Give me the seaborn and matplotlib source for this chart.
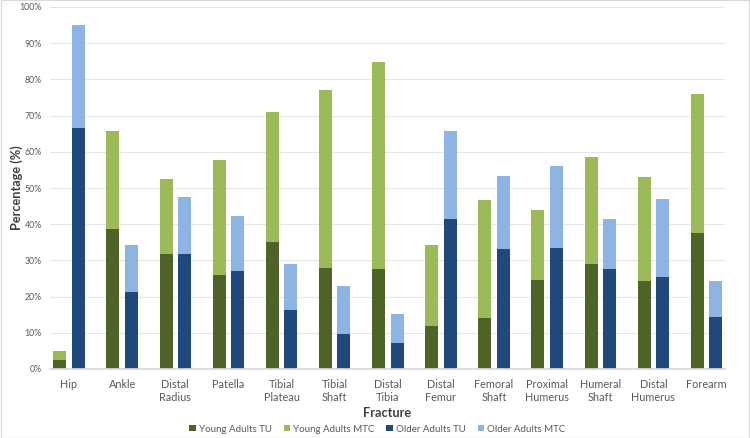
import matplotlib
matplotlib.use("Agg")
import matplotlib.pyplot as plt
import seaborn as sns
import pandas as pd
from matplotlib.patches import Patch
from matplotlib.ticker import PercentFormatter, MultipleLocator

fractures = ["Hip", "Ankle", "Distal\nRadius", "Patella", "Tibial\nPlateau", "Tibial\nShaft",
             "Distal\nTibia", "Distal\nFemur", "Femoral\nShaft", "Proximal\nHumerus",
             "Humeral\nShaft", "Distal\nHumerus", "Forearm"]
young_tu = [2.5, 38.7, 31.7, 26.0, 35.2, 27.8, 27.6, 11.9, 14.0, 24.7, 29.0, 24.4, 37.6]
young_mtc = [2.5, 27.1, 20.9, 31.8, 35.9, 49.4, 57.3, 22.4, 32.8, 19.2, 29.5, 28.6, 38.3]
older_tu = [66.5, 21.2, 31.7, 27.2, 16.2, 9.6, 7.1, 41.5, 33.2, 33.5, 27.5, 25.4, 14.4]
older_mtc = [28.5, 13.0, 15.8, 15.0, 12.8, 13.2, 8.0, 24.2, 20.0, 22.6, 14.0, 21.6, 9.8]
groups = ["Young Adults", "Older Adults"]
legend_labels = ["Young Adults TU", "Young Adults MTC", "Older Adults TU", "Older Adults MTC"]

c_ytu, c_ymtc, c_otu, c_omtc = "#4F6228", "#9BBB59", "#1F497D", "#8DB4E2"

rows = []
for i, f in enumerate(fractures):
    rows.append(dict(Fracture=f, Group=groups[0], TU=young_tu[i], Total=young_tu[i] + young_mtc[i]))
    rows.append(dict(Fracture=f, Group=groups[1], TU=older_tu[i], Total=older_tu[i] + older_mtc[i]))
df = pd.DataFrame(rows)

sns.set_theme(style="white")
plt.rcParams['font.family'] = ['Lato', 'DejaVu Sans']

fig = plt.figure(figsize=(7.5, 4.38), dpi=100)
ax = fig.add_axes([50 / 750, 1 - 369 / 438, 675 / 750, 362 / 438])

kw = dict(x="Fracture", hue="Group", hue_order=groups, width=0.696, gap=0.296,
          ax=ax, legend=False, saturation=1, errorbar=None, linewidth=0)
sns.barplot(data=df, y="Total", palette=[c_ymtc, c_omtc], **kw)
sns.barplot(data=df, y="TU", palette=[c_ytu, c_otu], **kw)

ax.set_ylim(0, 100)
ax.set_xlim(-0.358, len(fractures) - 1 + 0.348)
ax.yaxis.set_major_locator(MultipleLocator(10))
ax.yaxis.set_major_formatter(PercentFormatter(decimals=0))
ax.grid(axis="y", color="#E6E6E6", linewidth=0.8)
ax.set_axisbelow(True)
for s in ["top", "right", "left"]:
    ax.spines[s].set_visible(False)
ax.spines["bottom"].set_color("#D9D9D9")
ax.tick_params(axis="y", labelsize=6.3, colors="#595959", length=0, pad=6)
ax.tick_params(axis="x", labelsize=7.8, colors="#595959", length=0, pad=7)
for t in ax.get_xticklabels():
    t.set_linespacing(1.25)
ax.set_xlabel("Fracture", fontsize=9.2, fontweight="bold", color="#404040", labelpad=3)
ax.set_ylabel("Percentage (%)", fontsize=9.2, fontweight="bold", color="#404040")
ax.yaxis.set_label_coords(-27 / 675, 0.5)

handles = [Patch(facecolor=c, edgecolor="none") for c in [c_ytu, c_ymtc, c_otu, c_omtc]]
fig.legend(handles, legend_labels, loc="center", ncol=4, frameon=False,
           fontsize=7.0, handlelength=0.65, handleheight=0.65, handletextpad=0.3,
           columnspacing=1.25, bbox_to_anchor=(0.503, 1 - 429 / 438), labelcolor="#595959")

fig.patches.append(plt.Rectangle((0.001, 0.001), 0.998, 0.998, transform=fig.transFigure,
                                 fill=False, edgecolor="#D9D9D9", linewidth=0.8))
fig.savefig("out.png", dpi=100)
